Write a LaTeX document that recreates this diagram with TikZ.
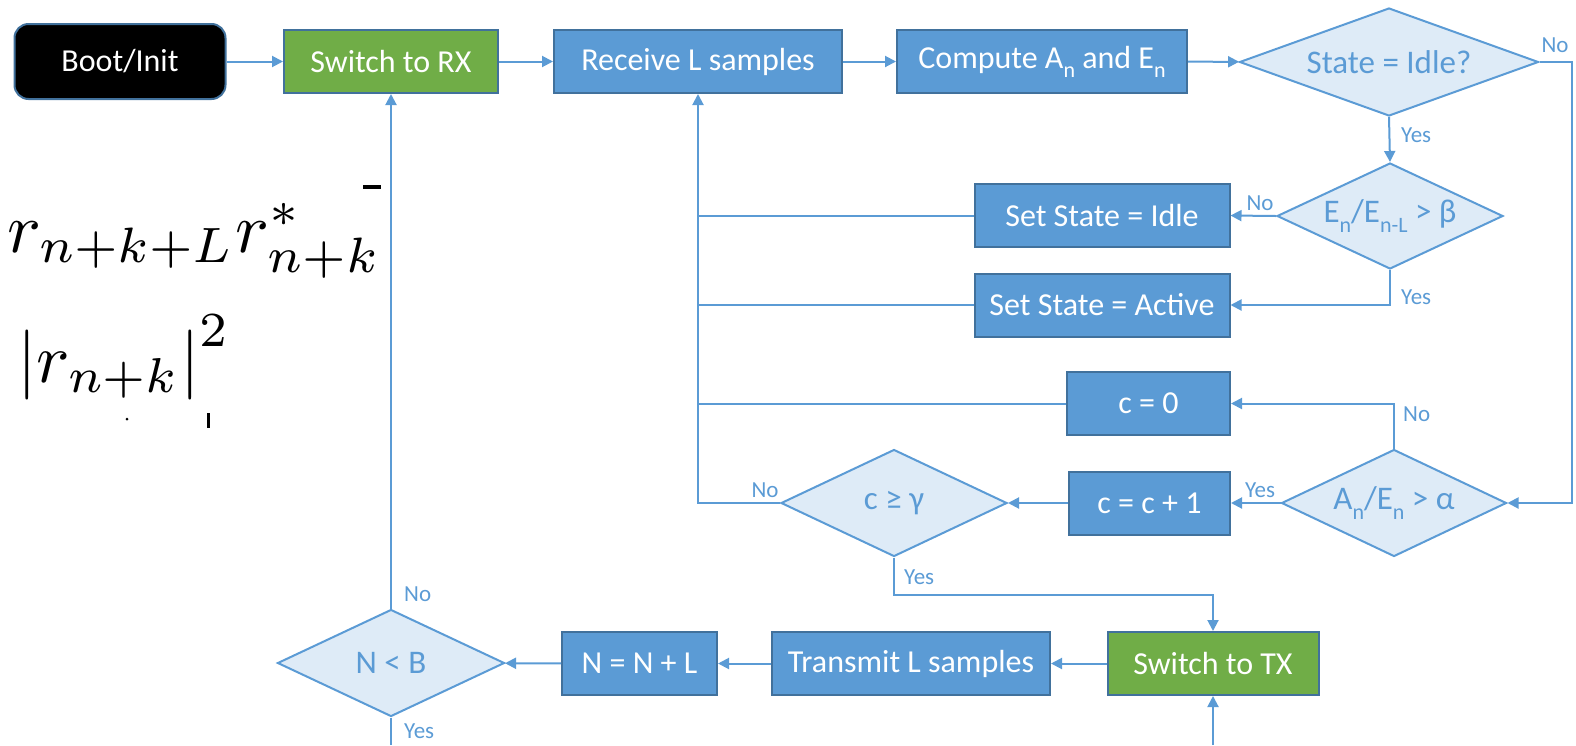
\documentclass[tikz,border=0pt]{standalone}
\usepackage[no-math]{fontspec}
\setmainfont{Carlito}
\usetikzlibrary{shapes.geometric,arrows.meta}
\definecolor{bblue}{HTML}{5B9BD5}
\definecolor{bdark}{HTML}{41719C}
\definecolor{bgreen}{HTML}{70AD47}
\definecolor{dfill}{HTML}{DEEBF7}
\newcommand\mysub[1]{\raisebox{-0.28em}{\fontsize{22}{22}\selectfont #1}}
\tikzset{
  box/.style={draw=bdark, line width=2pt, fill=bblue, text=white, inner sep=0pt,
    minimum height=63pt, font=\fontsize{32}{36}\selectfont},
  gbox/.style={box, fill=bgreen},
  dtext/.style={text=bblue, font=\fontsize{33}{36}\selectfont, inner sep=0pt},
  dia/.style={diamond, draw=bblue, line width=2pt, fill=dfill, inner sep=0pt,
    label={[dtext]center:#1}},
  conn/.style={draw=bblue, line width=2pt},
  arr/.style={conn, -{Triangle[length=11pt,width=11pt]}},
  lbl/.style={text=bblue, font=\fontsize{23}{25}\selectfont, inner sep=0pt},
}
\begin{document}
\begin{tikzpicture}[x=1pt,y=-1pt]
\useasboundingbox (0,0) rectangle (1576,745);
% nodes
\node[draw=bdark, line width=2pt, fill=black, text=white, rounded corners=14pt,
  minimum width=211pt, minimum height=75pt, inner sep=0pt,
  font=\fontsize{32}{36}\selectfont] (boot) at (120,61.5) {Boot/Init};
\node[gbox, minimum width=214pt] (swrx) at (391,61.5) {Switch to RX};
\node[box, minimum width=288pt] (recv) at (698,61.5) {Receive L samples};
\node[box, minimum width=290pt] (comp) at (1042,61.5) {Compute A\mysub{n} and E\mysub{n}};
\node[dia={State = Idle?}, minimum width=299pt, minimum height=108pt] (state) at (1389,62) {};
\node[dia={E\mysub{n}/E\mysub{n-L} > β}, minimum width=226pt, minimum height=106pt] (ee) at (1390,216) {};
\node[box, minimum width=255pt] (idle) at (1102,215.5) {Set State = Idle};
\node[box, minimum width=255pt] (active) at (1102,305) {Set State = Active};
\node[box, minimum width=163pt] (c0) at (1148.5,403.5) {c = 0};
\node[dia={A\mysub{n}/E\mysub{n} > α}, minimum width=225pt, minimum height=107pt] (ae) at (1394,503) {};
\node[box, minimum width=161pt] (cinc) at (1149.5,503) {c = c + 1};
\node[dia={c ≥ γ}, minimum width=226pt, minimum height=107pt] (cge) at (894,503) {};
\node[gbox, minimum width=211pt] (swtx) at (1213,663.5) {Switch to TX};
\node[box, minimum width=278pt] (tx) at (911,663.5) {Transmit L samples};
\node[box, minimum width=155pt] (nn) at (639.5,663.5) {N = N + L};
\node[dia={N < B}, minimum width=227pt, minimum height=107pt] (nb) at (391,663) {};
% math fragment
\node[anchor=base west, inner sep=0pt] (f1) at (7,252) {\scalebox{7.1}{$r_{n+k+L}r^*_{n+k}$}};
\node[anchor=base west, inner sep=0pt] (f2) at (17,382) {\scalebox{7.0}{$\left|r_{n+k}\right|^2$}};
\fill[black] (363,185) rectangle (381,189);
\fill[black] (127,419) circle (1.5);
\fill[black] (207,413) rectangle (209.5,428);
% coordinates
\coordinate (rc) at (1572,62);
\coordinate (yb) at (894,595);
\coordinate (bot1) at (391,745);
\coordinate (bot2) at (1213,745);
% connectors
\draw[arr] (boot) -- (swrx);
\draw[arr] (swrx) -- (recv);
\draw[arr] (recv) -- (comp);
\draw[arr] (comp) -- (state);
\draw[arr] (state.east) -- (rc) |- (ae.east);
\draw[arr] (state.south) -- (ee.north);
\draw[arr] (ee.west) -- (idle.east);
\draw[arr] (ee.south) |- (active.east);
\draw[conn] (idle.west) -- (idle.west -| recv.south);
\draw[conn] (active.west) -- (active.west -| recv.south);
\draw[conn] (c0.west) -- (c0.west -| recv.south);
\draw[arr] (cge.west) -| (recv.south);
\draw[arr] (ae.north) |- (c0.east);
\draw[arr] (ae.west) -- (cinc.east);
\draw[arr] (cinc.west) -- (cge.east);
\draw[arr] (cge.south) -- (yb) -| (swtx.north);
\draw[arr] (swtx) -- (tx);
\draw[arr] (tx) -- (nn);
\draw[arr] (nn) -- (nb);
\draw[arr] (nb.north) -- (swrx.south);
\draw[conn] (nb.south) -- (bot1);
\draw[arr] (bot2) -- (swtx.south);
% labels
\node[lbl] (l1) at (1555,45) {No};
\node[lbl, anchor=west] (l2) at (1401,135) {Yes};
\node[lbl] (l3) at (1260,203) {No};
\node[lbl, anchor=west] (l4) at (1401,297) {Yes};
\node[lbl, anchor=west] (l5) at (1403,414) {No};
\node[lbl] (l6) at (1260,490) {Yes};
\node[lbl] (l7) at (765,490) {No};
\node[lbl, anchor=west] (l8) at (904,577) {Yes};
\node[lbl, anchor=west] (l9) at (404,594) {No};
\node[lbl, anchor=west] (l10) at (404,731) {Yes};
\end{tikzpicture}
\end{document}
